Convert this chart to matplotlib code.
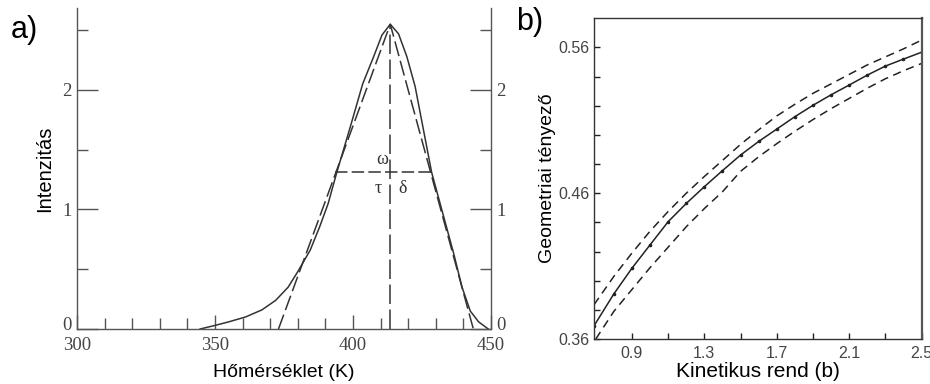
import numpy as np
import matplotlib.pyplot as plt
import matplotlib.transforms as mtransforms
from matplotlib.ticker import MultipleLocator, FixedLocator

plt.rcParams['lines.scale_dashes'] = False

# a) panel: glow curve
hom = [344.6, 350, 355, 361, 367, 372, 376.5, 380, 384.5, 388, 391, 394, 399,
       403.5, 407.5, 410.5, 413.5, 416.5, 419.5, 422.5, 425.5, 428.5, 432.5,
       436.5, 439.5, 442.5, 445.5, 449]
intenz = [0, 0.03, 0.06, 0.10, 0.16, 0.24, 0.35, 0.48, 0.66, 0.86, 1.05, 1.30,
          1.69, 2.05, 2.28, 2.46, 2.55, 2.47, 2.28, 2.03, 1.67, 1.31, 0.97,
          0.63, 0.35, 0.15, 0.06, 0]
tri_T = [373, 413.5, 443.6]
tri_I = [0, 2.55, 0]
Tm, Im = 413.5, 2.55
felmag = 1.31
T1, T2 = 393.5, 428.5

# b) panel: geometric factor vs kinetic order
b_mid = [0.69, 0.8, 0.9, 1.0, 1.1, 1.2, 1.3, 1.4, 1.5, 1.6, 1.7, 1.8, 1.9,
         2.0, 2.1, 2.2, 2.3, 2.4, 2.5]
g_mid = [0.369, 0.391, 0.4086, 0.4246, 0.4405, 0.453, 0.4645, 0.4755, 0.4862,
         0.4955, 0.504, 0.5125, 0.5203, 0.5275, 0.5342, 0.541, 0.5472, 0.552,
         0.5567]
g_up = [0.3835, 0.403, 0.419, 0.434, 0.4475, 0.460, 0.4715, 0.4825, 0.4935,
        0.5035, 0.513, 0.521, 0.5285, 0.535, 0.5415, 0.548, 0.5535, 0.559, 0.565]
b_low = [0.70, 0.8, 0.9, 1.0, 1.1, 1.2, 1.3, 1.4, 1.5, 1.6, 1.7, 1.8, 1.9,
         2.0, 2.1, 2.2, 2.3, 2.4, 2.5]
g_low = [0.36, 0.379, 0.394, 0.409, 0.423, 0.437, 0.4495, 0.461, 0.475, 0.485,
         0.494, 0.5025, 0.5105, 0.518, 0.525, 0.532, 0.5385, 0.544, 0.549]

W, H = 930, 384
fig = plt.figure(figsize=(W / 100, H / 100), dpi=100)

lc = '#333333'
serif = 'Liberation Serif'
sans = 'Liberation Sans'

# ---------------- panel a
ax = fig.add_axes([77 / W, 1 - 329 / H, (491 - 77) / W, (329 - 8) / H])
ax.plot(hom, intenz, color=lc, lw=1.1)
ax.plot(tri_T, tri_I, color=lc, lw=1.1, dashes=(11, 3.5))
ax.plot([Tm, Tm], [0, Im], color=lc, lw=1.1, dashes=(14, 4))
ax.plot([T1, T2], [felmag, felmag], color=lc, lw=1.1, dashes=(9, 3))
ax.text(Tm - 0.6, felmag + 0.04, 'ω', ha='right', va='bottom', fontsize=13,
        family=serif, color=lc)
ax.text(Tm - 4.5, felmag - 0.06, 'τ', ha='center', va='top', fontsize=13,
        family=serif, color=lc)
ax.text(Tm + 4.5, felmag - 0.06, 'δ', ha='center', va='top', fontsize=13,
        family=serif, color=lc)

ax.set_xlim(300, 450)
ax.set_ylim(0, 2.686)
ax.spines['top'].set_visible(False)
for s in ['left', 'right', 'bottom']:
    ax.spines[s].set_color('#555555')
    ax.spines[s].set_linewidth(1.0)
ax.xaxis.set_major_locator(FixedLocator([300, 350, 400, 450]))
ax.xaxis.set_minor_locator(MultipleLocator(10))
ax.yaxis.set_major_locator(FixedLocator([0, 1, 2]))
ax.yaxis.set_minor_locator(FixedLocator([0.5, 1.5, 2.5]))
ax.set_xticklabels(['300', '350', '400', '450'])
ax.set_yticklabels(['0', '1', '2'])
ax.tick_params(which='both', labelsize=13.5, labelcolor='#444444',
               labelfontfamily=serif, color='#555555', width=1, direction='in')
ax.tick_params(axis='x', which='major', length=10, pad=6)
ax.tick_params(axis='x', which='minor', length=8)
ax.tick_params(axis='y', which='major', length=15, right=True,
               labelright=True, pad=4)
ax.tick_params(axis='y', which='minor', length=8, right=True)
ax.set_xlabel('Hőmérséklet (K)', family=sans, fontsize=14, labelpad=7)
ax.set_ylabel('Intenzitás', family=sans, fontsize=14.5, labelpad=6)
fig.text(11 / W, 1 - 30 / H, 'a)', family=sans, fontsize=22, va='center')

# the "0" labels sit just above the corner x labels, as in the original
nudge = mtransforms.ScaledTranslation(0, 4 / 72, fig.dpi_scale_trans)
t0 = ax.yaxis.get_major_ticks()[0]
t0.label1.set_transform(t0.label1.get_transform() + nudge)
t0.label2.set_transform(t0.label2.get_transform() + nudge)

# ---------------- panel b
bx = fig.add_axes([594 / W, 1 - 339 / H, (921.5 - 594) / W, (339 - 18.3) / H])
bx.plot(b_mid, g_mid, color='#222222', lw=1.1, marker='o', ms=1.6)
bx.plot(b_mid, g_up, color='#222222', lw=1.1, dashes=(6, 4))
bx.plot(b_low, g_low, color='#222222', lw=1.1, dashes=(6, 4))
bx.set_xlim(0.69, 2.5)
bx.set_ylim(0.36, 0.58)
bx.xaxis.set_major_locator(FixedLocator([0.9, 1.3, 1.7, 2.1, 2.5]))
bx.xaxis.set_minor_locator(FixedLocator([1.1, 1.5, 1.9, 2.3]))
bx.yaxis.set_major_locator(FixedLocator([0.36, 0.46, 0.56]))
bx.yaxis.set_minor_locator(FixedLocator(np.arange(0.38, 0.575, 0.02)))
bx.set_xticklabels(['0.9', '1.3', '1.7', '2.1', '2.5'])
bx.set_yticklabels(['0.36', '0.46', '0.56'])
bx.tick_params(which='both', direction='in', length=4, width=1, color='#222222',
               labelsize=11.5, labelcolor='#444444', labelfontfamily=sans)
bx.tick_params(axis='x', pad=5)
bx.tick_params(axis='y', pad=3)
for s in ['left', 'bottom', 'top']:
    bx.spines[s].set_color('#333333')
    bx.spines[s].set_linewidth(1.0)
bx.spines['right'].set_color('#555555')
bx.spines['right'].set_linewidth(1.6)
bx.set_xlabel('Kinetikus rend (b)', family=sans, fontsize=15, labelpad=1)
bx.set_ylabel('Geometriai tényező', family=sans, fontsize=14, labelpad=2)
fig.text(516 / W, 1 - 22 / H, 'b)', family=sans, fontsize=22, va='center')

fig.savefig('out.png', dpi=100)
